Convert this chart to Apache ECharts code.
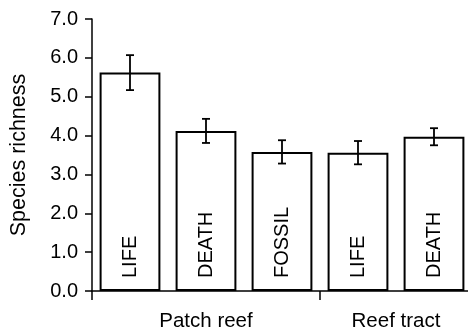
<!DOCTYPE html>
<html><head><meta charset="utf-8">
<script src="https://cdn.jsdelivr.net/npm/echarts@6/dist/echarts.min.js"></script>
<style>html,body{margin:0;padding:0;background:#fff}#c{width:468px;height:331px}</style>
</head><body><div id="c"></div>
<script>
const categories = ['LIFE', 'DEATH', 'FOSSIL', 'LIFE', 'DEATH'];
const means = [5.62, 4.12, 3.58, 3.56, 3.97];
const errors = [0.45, 0.31, 0.30, 0.30, 0.22];
const groups = ['Patch reef', 'Reef tract'];
const groupBounds = [0, 3];
const groupCenters = [1.5, 4];
const yTicks = [0, 1, 2, 3, 4, 5, 6, 7];

const FONT = 'Liberation Sans, Arial, Helvetica, sans-serif';
const chart = echarts.init(document.getElementById('c'), null, {renderer: 'canvas'});
const errData = means.map((m, i) => [i, m - errors[i], m + errors[i]]);

chart.setOption({
  animation: false,
  backgroundColor: '#fff',
  grid: {left: 92, top: 19, right: -4, bottom: 40, containLabel: false, outerBoundsMode: 'none'},
  xAxis: [{
    type: 'category', data: categories, boundaryGap: true,
    axisLine: {lineStyle: {color: '#000', width: 1.5}},
    axisTick: {show: false}, axisLabel: {show: false}
  }, {
    type: 'value', min: 0, max: 5, position: 'bottom',
    axisLine: {show: false}, splitLine: {show: false},
    axisTick: {show: true, length: 9, customValues: groupBounds, lineStyle: {color: '#000', width: 1.5}},
    axisLabel: {
      show: true, customValues: groupCenters, margin: 20,
      color: '#000', fontFamily: FONT, fontSize: 20.5,
      formatter: v => groups[groupCenters.indexOf(v)] || ''
    }
  }],
  yAxis: {
    type: 'value', min: 0, max: 7, interval: 1,
    name: 'Species richness', nameLocation: 'middle', nameRotate: 90, nameGap: 62,
    nameTextStyle: {color: '#000', fontFamily: FONT, fontSize: 21.5},
    axisLine: {show: true, lineStyle: {color: '#000', width: 1.5}},
    axisTick: {show: true, length: 7, lineStyle: {color: '#000', width: 1.5}},
    splitLine: {show: false},
    axisLabel: {color: '#000', fontFamily: FONT, fontSize: 20, margin: 14,
      formatter: v => yTicks.includes(v) ? v.toFixed(1) : ''}
  },
  series: [{
    type: 'bar', data: means, barWidth: '80%', xAxisIndex: 0,
    itemStyle: {color: '#fff', borderColor: '#000', borderWidth: 2},
    label: {
      show: true, position: 'insideBottom', rotate: 90, align: 'left', verticalAlign: 'middle',
      distance: 13, color: '#000', fontFamily: FONT, fontSize: 20,
      formatter: p => categories[p.dataIndex]
    },
    z: 2
  }, {
    type: 'custom', xAxisIndex: 0, data: errData, z: 3,
    renderItem: (params, api) => {
      const x = api.value(0);
      const lo = api.coord([x, api.value(1)]);
      const hi = api.coord([x, api.value(2)]);
      const cw = 4;
      const st = {stroke: '#000', lineWidth: 1.8};
      return {type: 'group', children: [
        {type: 'line', shape: {x1: lo[0], y1: lo[1], x2: hi[0], y2: hi[1]}, style: st},
        {type: 'line', shape: {x1: lo[0] - cw, y1: lo[1], x2: lo[0] + cw, y2: lo[1]}, style: st},
        {type: 'line', shape: {x1: hi[0] - cw, y1: hi[1], x2: hi[0] + cw, y2: hi[1]}, style: st}
      ]};
    }
  }]
});
</script></body></html>
